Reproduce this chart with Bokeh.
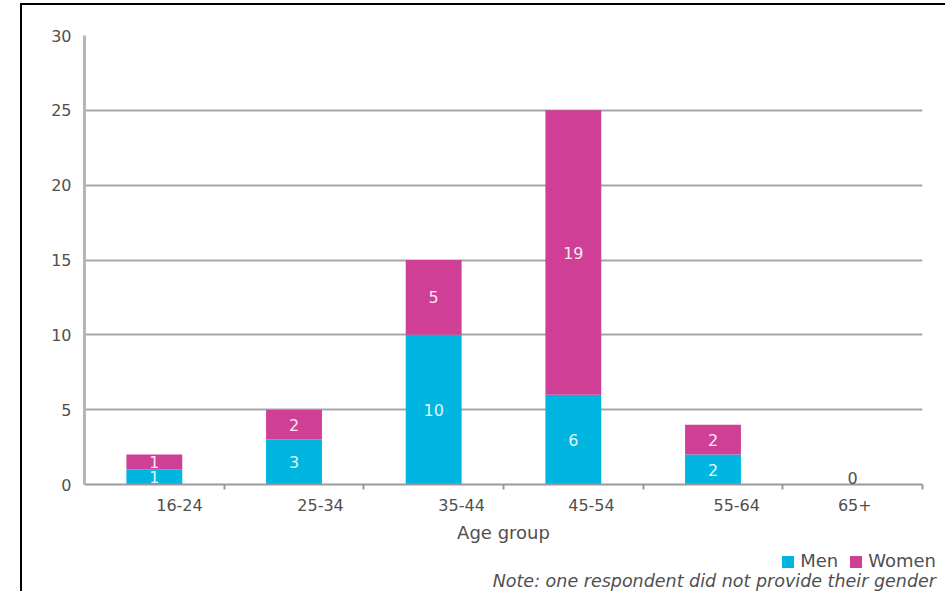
from bokeh.plotting import figure
from bokeh.layouts import column
from bokeh.models import (ColumnDataSource, FixedTicker, LabelSet, LinearAxis,
                          Div)
from bokeh.core.properties import value
from bokeh.embed import file_html
from bokeh.resources import INLINE

# Respondents by age group and gender
age_groups = ["16-24", "25-34", "35-44", "45-54", "55-64", "65+"]
men = [1, 3, 10, 6, 2, 0]
women = [1, 2, 5, 19, 2, 0]
y_ticks = [0, 5, 10, 15, 20, 25, 30]

FONT = "DejaVu Sans"
CYAN = "#00b6e0"
MAGENTA = "#cf3f96"
GREY_TEXT = "#505050"

xs = [i + 0.5 for i in range(len(age_groups))]
# category names sit a little right of their bars (in x units)
label_shift = [0.18, 0.19, 0.2, 0.13, 0.17, 0.015]
label_pos = [x + s for x, s in zip(xs, label_shift)]

source = ColumnDataSource(dict(x=xs, men=men, women=women))

p = figure(width=923, height=540, x_range=(0, 6), y_range=(0, 30),
           output_backend="svg", toolbar_location=None,
           min_border_left=62, min_border_right=23,
           min_border_top=30, min_border_bottom=60)
p.outline_line_color = None
p.background_fill_color = "white"
p.border_fill_color = "white"

renderers = p.vbar_stack(["men", "women"], x="x", width=0.4,
                         color=[CYAN, MAGENTA], line_color=None, source=source)

# grid
p.xgrid.visible = False
p.ygrid.grid_line_color = "#a8a8a8"
p.ygrid.grid_line_width = 2

# y axis
p.yaxis.ticker = FixedTicker(ticks=y_ticks)
p.yaxis.axis_line_color = "#b5b5b5"
p.yaxis.axis_line_width = 3
p.yaxis.major_tick_out = 0
p.yaxis.major_tick_in = 0
p.yaxis.minor_tick_out = 0
p.yaxis.minor_tick_in = 0
p.yaxis.major_label_standoff = 13
p.yaxis.major_label_text_font = FONT
p.yaxis.major_label_text_font_size = "16px"
p.yaxis.major_label_text_color = GREY_TEXT

# x axis line with ticks on the category boundaries
bounds = list(range(1, len(age_groups) + 1))
p.xaxis.ticker = FixedTicker(ticks=bounds)
p.xaxis.major_label_overrides = {b: "" for b in bounds}
p.xaxis.major_label_standoff = 0
p.xaxis.major_label_text_font_size = "2px"
p.xaxis.axis_line_color = "#9a9a9a"
p.xaxis.axis_line_width = 2
p.xaxis.major_tick_line_color = "#9a9a9a"
p.xaxis.major_tick_line_width = 2
p.xaxis.major_tick_out = 5
p.xaxis.major_tick_in = 0
p.xaxis.minor_tick_out = 0
p.xaxis.minor_tick_in = 0

# second axis carrying the category names and the axis title
name_axis = LinearAxis(ticker=FixedTicker(ticks=label_pos),
                       major_label_overrides=dict(zip(label_pos, age_groups)),
                       axis_line_color=None, major_tick_line_color=None,
                       minor_tick_line_color=None, major_tick_out=0,
                       major_tick_in=0, minor_tick_out=0, minor_tick_in=0,
                       major_label_standoff=9,
                       major_label_text_font=FONT,
                       major_label_text_font_size="16px",
                       major_label_text_color=GREY_TEXT,
                       axis_label="Age group", axis_label_standoff=8,
                       axis_label_text_font=FONT,
                       axis_label_text_font_size="18px",
                       axis_label_text_font_style="normal",
                       axis_label_text_color=GREY_TEXT)
p.add_layout(name_axis, "below")

# value labels inside the segments
m_idx = [i for i, v in enumerate(men) if v > 0]
w_idx = [i for i, v in enumerate(women) if v > 0]
z_idx = [i for i in range(len(men)) if men[i] + women[i] == 0]
men_src = ColumnDataSource(dict(x=[xs[i] for i in m_idx],
                                y=[men[i] / 2 for i in m_idx],
                                t=[str(men[i]) for i in m_idx]))
women_src = ColumnDataSource(dict(x=[xs[i] for i in w_idx],
                                  y=[men[i] + women[i] / 2 for i in w_idx],
                                  t=[str(women[i]) for i in w_idx]))
zero_src = ColumnDataSource(dict(x=[xs[i] for i in z_idx],
                                 y=[0 for i in z_idx],
                                 t=[str(men[i] + women[i]) for i in z_idx]))
for src in (men_src, women_src):
    p.add_layout(LabelSet(x="x", y="y", text="t", text_align="center",
                          text_baseline="middle", text_font=value(FONT),
                          text_font_size="16px", text_color="white",
                          text_alpha=0.9, source=src))
p.add_layout(LabelSet(x="x", y="y", text="t", text_align="center",
                      text_baseline="bottom", y_offset=1,
                      text_font=value(FONT), text_font_size="16px",
                      text_color=GREY_TEXT, source=zero_src))

# legend and footnote
swatch = ("display:inline-block;width:12px;height:12px;margin-right:6px;"
          "vertical-align:-1px;background:{}")
legend_html = (
    f"<div style=\"width:923px;box-sizing:border-box;text-align:right;"
    f"padding:0 14px 0 0;margin:0;color:{GREY_TEXT};"
    f"font-family:'{FONT}';\">"
    f"<div style=\"font-size:18px;line-height:21px;\">"
    f"<span style=\"{swatch.format(CYAN)}\"></span>Men"
    f"<span style=\"display:inline-block;width:12px\"></span>"
    f"<span style=\"{swatch.format(MAGENTA)}\"></span>Women</div>"
    f"<div style=\"font-size:17.5px;line-height:20px;font-style:italic;\">"
    f"Note: one respondent did not provide their gender</div></div>"
)
footer = Div(text=legend_html, width=923, height=46)

page = column(p, footer, spacing=0)
page.styles = {"border-left": "2px solid black", "border-top": "2px solid black",
               "margin-left": "20px", "margin-top": "3px"}

open("out.html", "w").write(file_html(page, INLINE))
